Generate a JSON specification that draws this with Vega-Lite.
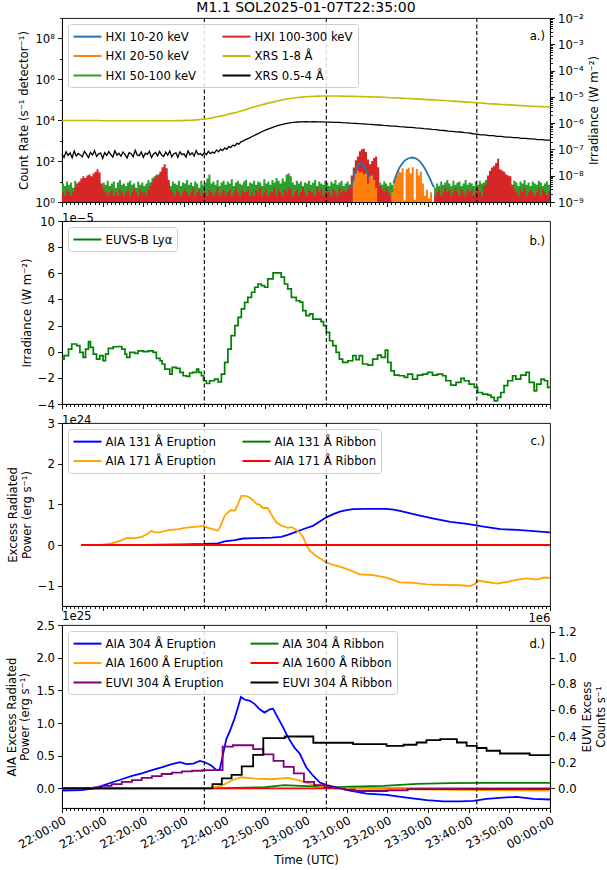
{
"$schema": "https://vega.github.io/schema/vega-lite/v6.json",
"background": "white",
"padding": {"left": 5, "top": 0, "right": 2, "bottom": 2},
"config": {
 "font": "DejaVu Sans",
 "view": {"stroke": "black", "strokeWidth": 0.9},
 "axis": {"labelFont": "DejaVu Sans", "labelFontSize": 11.7, "titleFont": "DejaVu Sans", "titleFontSize": 11.7, "titleFontWeight": "normal", "labelColor": "black", "titleColor": "black", "domainColor": "black", "tickColor": "black", "domainWidth": 0.9, "tickWidth": 0.9, "grid": false, "labelPadding": 3, "titlePadding": 5, "labelFlush": false, "labelOverlap": false, "labelBound": false},
 "title": {"font": "DejaVu Sans", "fontWeight": "normal", "color": "black", "fontSize": 11.7},
 "legend": {"labelFont": "DejaVu Sans", "labelFontSize": 11.7, "labelColor": "black", "symbolType": "M-2,0H2", "symbolStrokeWidth": 2, "symbolSize": 196, "symbolOffset": 7, "orient": "top-left", "offset": 6, "padding": 4.5, "rowPadding": 4.5, "columnPadding": 22, "labelOffset": 10, "strokeColor": "#cccccc", "fillColor": "rgba(255,255,255,0.85)", "cornerRadius": 3, "labelLimit": 300}
},
"datasets": {
 "dash": [{"t": 35}, {"t": 65}, {"t": 102}],
 "hxi": [
{"t":0,"g":8,"r":3},{"t":0.5,"g":6,"r":2},{"t":1,"g":10,"r":4},{"t":1.5,"g":7,"r":3},{"t":2,"g":9,"r":2},{"t":2.5,"g":5,"r":3},{"t":3,"g":11,"r":5},{"t":3.5,"g":8,"r":8},{"t":4,"g":6,"r":10},{"t":4.5,"g":9,"r":14},
{"t":5,"g":10,"r":18},{"t":5.5,"g":7,"r":15},{"t":6,"g":12,"r":20},{"t":6.5,"g":9,"r":22},{"t":7,"g":8,"r":18},{"t":7.5,"g":11,"r":25},{"t":8,"g":7,"r":30},{"t":8.5,"g":10,"r":40},{"t":9,"g":9,"r":28},{"t":9.5,"g":6,"r":8},
{"t":10,"g":9,"r":4},{"t":10.5,"g":7,"r":3},{"t":11,"g":11,"r":2},{"t":11.5,"g":6,"r":3},{"t":12,"g":8,"r":4},{"t":12.5,"g":10,"r":2},{"t":13,"g":5,"r":3},{"t":13.5,"g":9,"r":2},{"t":14,"g":12,"r":4},{"t":14.5,"g":7,"r":3},
{"t":15,"g":8,"r":2},{"t":15.5,"g":6,"r":3},{"t":16,"g":9,"r":4},{"t":16.5,"g":11,"r":2},{"t":17,"g":7,"r":3},{"t":17.5,"g":8,"r":5},{"t":18,"g":5,"r":3},{"t":18.5,"g":10,"r":2},{"t":19,"g":7,"r":4},{"t":19.5,"g":9,"r":3},
{"t":20,"g":6,"r":3},{"t":20.5,"g":8,"r":2},{"t":21,"g":12,"r":4},{"t":21.5,"g":9,"r":6},{"t":22,"g":15,"r":10},{"t":22.5,"g":18,"r":14},{"t":23,"g":22,"r":18},{"t":23.5,"g":20,"r":22},{"t":24,"g":30,"r":30},{"t":24.5,"g":45,"r":50},
{"t":25,"g":35,"r":70},{"t":25.5,"g":18,"r":45},{"t":26,"g":9,"r":12},{"t":26.5,"g":6,"r":4},{"t":27,"g":10,"r":3},{"t":27.5,"g":8,"r":2},{"t":28,"g":7,"r":4},{"t":28.5,"g":11,"r":3},{"t":29,"g":6,"r":2},{"t":29.5,"g":9,"r":3},
{"t":30,"g":8,"r":4},{"t":30.5,"g":12,"r":3},{"t":31,"g":7,"r":2},{"t":31.5,"g":9,"r":3},{"t":32,"g":6,"r":5},{"t":32.5,"g":10,"r":2},{"t":33,"g":8,"r":3},{"t":33.5,"g":5,"r":4},{"t":34,"g":11,"r":2},{"t":34.5,"g":7,"r":3},
{"t":35,"g":9,"r":3},{"t":35.5,"g":14,"r":2},{"t":36,"g":22,"r":4},{"t":36.5,"g":8,"r":3},{"t":37,"g":10,"r":2},{"t":37.5,"g":7,"r":3},{"t":38,"g":12,"r":5},{"t":38.5,"g":6,"r":2},{"t":39,"g":9,"r":3},{"t":39.5,"g":11,"r":4},
{"t":40,"g":7,"r":2},{"t":40.5,"g":10,"r":3},{"t":41,"g":8,"r":4},{"t":41.5,"g":13,"r":2},{"t":42,"g":6,"r":3},{"t":42.5,"g":9,"r":5},{"t":43,"g":11,"r":3},{"t":43.5,"g":8,"r":2},{"t":44,"g":7,"r":4},{"t":44.5,"g":10,"r":3},
{"t":45,"g":12,"r":3},{"t":45.5,"g":6,"r":4},{"t":46,"g":9,"r":2},{"t":46.5,"g":8,"r":3},{"t":47,"g":11,"r":2},{"t":47.5,"g":7,"r":4},{"t":48,"g":10,"r":3},{"t":48.5,"g":9,"r":5},{"t":49,"g":6,"r":2},{"t":49.5,"g":13,"r":3},
{"t":50,"g":8,"r":4},{"t":50.5,"g":10,"r":2},{"t":51,"g":7,"r":3},{"t":51.5,"g":12,"r":3},{"t":52,"g":9,"r":5},{"t":52.5,"g":15,"r":2},{"t":53,"g":11,"r":4},{"t":53.5,"g":8,"r":3},{"t":54,"g":14,"r":2},{"t":54.5,"g":10,"r":4},
{"t":55,"g":22,"r":3},{"t":55.5,"g":25,"r":5},{"t":56,"g":18,"r":4},{"t":56.5,"g":9,"r":2},{"t":57,"g":7,"r":3},{"t":57.5,"g":11,"r":4},{"t":58,"g":8,"r":2},{"t":58.5,"g":10,"r":3},{"t":59,"g":6,"r":5},{"t":59.5,"g":9,"r":3},
{"t":60,"g":8,"r":2},{"t":60.5,"g":11,"r":4},{"t":61,"g":7,"r":3},{"t":61.5,"g":9,"r":3},{"t":62,"g":12,"r":2},{"t":62.5,"g":6,"r":5},{"t":63,"g":10,"r":3},{"t":63.5,"g":8,"r":4},{"t":64,"g":7,"r":2},{"t":64.5,"g":11,"r":3},
{"t":65,"g":9,"r":4},{"t":65.5,"g":6,"r":3},{"t":66,"g":10,"r":2},{"t":66.5,"g":8,"r":4},{"t":67,"g":12,"r":3},{"t":67.5,"g":7,"r":2},{"t":68,"g":9,"r":5},{"t":68.5,"g":11,"r":3},{"t":69,"g":6,"r":4},{"t":69.5,"g":8,"r":3},
{"t":70,"g":10,"r":4},{"t":70.5,"g":7,"r":7},{"t":71,"g":5,"r":20},{"t":71.5,"g":3,"r":49},{"t":72,"g":2,"r":110},{"t":72.5,"g":2,"r":170},{"t":73,"g":2,"r":300},{"t":73.5,"g":2,"r":380},{"t":74,"g":2,"r":400},{"t":74.5,"g":2,"r":280},
{"t":75,"g":3,"r":120},{"t":75.5,"g":2,"r":70},{"t":76,"g":2,"r":100},{"t":76.5,"g":3,"r":140},{"t":77,"g":2,"r":170},{"t":77.5,"g":6,"r":50},{"t":78,"g":9,"r":6},{"t":78.5,"g":7,"r":4},{"t":79,"g":10,"r":3},{"t":79.5,"g":8,"r":5},
{"t":80,"g":6,"r":3},{"t":80.5,"g":9,"r":2},{"t":81,"g":7,"r":1},{"t":81.5,"g":5,"r":1},{"t":82,"g":6,"r":1},{"t":82.5,"g":4,"r":1},{"t":83,"g":1,"r":1},{"t":83.5,"g":1,"r":1},{"t":84,"g":1,"r":1},{"t":84.5,"g":1,"r":1},
{"t":85,"g":1,"r":1},{"t":85.5,"g":1,"r":1},{"t":86,"g":1,"r":1},{"t":86.5,"g":1,"r":1},{"t":87,"g":1,"r":1},{"t":87.5,"g":1,"r":1},{"t":88,"g":1,"r":1},{"t":88.5,"g":1,"r":1},{"t":89,"g":1,"r":1},{"t":89.5,"g":1,"r":1},
{"t":90,"g":1,"r":1},{"t":90.5,"g":1,"r":1},{"t":91,"g":1,"r":1},{"t":91.5,"g":5,"r":2},{"t":92,"g":8,"r":3},{"t":92.5,"g":6,"r":4},{"t":93,"g":10,"r":2},{"t":93.5,"g":7,"r":3},{"t":94,"g":9,"r":5},{"t":94.5,"g":12,"r":3},
{"t":95,"g":8,"r":4},{"t":95.5,"g":6,"r":2},{"t":96,"g":11,"r":3},{"t":96.5,"g":7,"r":5},{"t":97,"g":9,"r":3},{"t":97.5,"g":10,"r":2},{"t":98,"g":6,"r":4},{"t":98.5,"g":8,"r":3},{"t":99,"g":12,"r":2},{"t":99.5,"g":7,"r":4},
{"t":100,"g":9,"r":3},{"t":100.5,"g":8,"r":4},{"t":101,"g":6,"r":2},{"t":101.5,"g":10,"r":3},{"t":102,"g":7,"r":5},{"t":102.5,"g":11,"r":3},{"t":103,"g":8,"r":2},{"t":103.5,"g":9,"r":6},{"t":104,"g":12,"r":7},{"t":104.5,"g":10,"r":20},
{"t":105,"g":8,"r":34},{"t":105.5,"g":11,"r":49},{"t":106,"g":9,"r":60},{"t":106.5,"g":7,"r":80},{"t":107,"g":10,"r":130},{"t":107.5,"g":8,"r":40},{"t":108,"g":12,"r":35},{"t":108.5,"g":9,"r":30},{"t":109,"g":6,"r":22},{"t":109.5,"g":10,"r":20},
{"t":110,"g":8,"r":18},{"t":110.5,"g":7,"r":7},{"t":111,"g":11,"r":4},{"t":111.5,"g":9,"r":3},{"t":112,"g":6,"r":2},{"t":112.5,"g":10,"r":4},{"t":113,"g":8,"r":3},{"t":113.5,"g":12,"r":5},{"t":114,"g":7,"r":2},{"t":114.5,"g":9,"r":3},
{"t":115,"g":6,"r":4},{"t":115.5,"g":10,"r":3},{"t":116,"g":8,"r":2},{"t":116.5,"g":7,"r":3},{"t":117,"g":11,"r":5},{"t":117.5,"g":9,"r":2},{"t":118,"g":6,"r":4},{"t":118.5,"g":8,"r":3},{"t":119,"g":10,"r":2},{"t":119.5,"g":7,"r":3},
{"t":120,"g":8,"r":4}
 ],
 "hxo": [
{"t":71,"v":1},{"t":71.5,"v":12},{"t":72,"v":25},{"t":72.5,"v":35},{"t":73,"v":28},{"t":73.5,"v":30},{"t":74,"v":22},{"t":74.5,"v":25},{"t":75,"v":8},{"t":75.5,"v":18},{"t":76,"v":20},{"t":76.5,"v":12},{"t":77,"v":5},{"t":77.5,"v":1},{"t":78,"v":1},{"t":79,"v":1},{"t":80,"v":1},{"t":80.5,"v":1},
{"t":81,"v":3},{"t":81.5,"v":12},{"t":82,"v":20},{"t":82.5,"v":35},{"t":83,"v":28},{"t":83.5,"v":45},{"t":84,"v":1.2},{"t":84.5,"v":40},{"t":85,"v":48},{"t":85.5,"v":25},{"t":86,"v":50},{"t":86.5,"v":1.3},{"t":87,"v":42},{"t":87.5,"v":20},{"t":88,"v":30},{"t":88.5,"v":8},{"t":89,"v":2},{"t":89.5,"v":4},{"t":90,"v":1.5},{"t":90.5,"v":3},{"t":91,"v":1}
 ],
 "hxb": [
{"seg":1,"t":71,"v":5},{"seg":1,"t":71.5,"v":10},{"seg":1,"t":72,"v":30},{"seg":1,"t":72.5,"v":45},{"seg":1,"t":73,"v":74},{"seg":1,"t":73.5,"v":80},{"seg":1,"t":74,"v":70},{"seg":1,"t":74.5,"v":50},{"seg":1,"t":75,"v":30},{"seg":1,"t":75.5,"v":15},
{"seg":2,"t":81.5,"v":8},{"seg":2,"t":82,"v":16},{"seg":2,"t":82.5,"v":30},{"seg":2,"t":83,"v":49},{"seg":2,"t":83.5,"v":68},{"seg":2,"t":84,"v":92},{"seg":2,"t":84.5,"v":115},{"seg":2,"t":85,"v":130},{"seg":2,"t":85.5,"v":142},{"seg":2,"t":86,"v":150},{"seg":2,"t":86.5,"v":145},{"seg":2,"t":87,"v":135},{"seg":2,"t":87.5,"v":118},{"seg":2,"t":88,"v":95},{"seg":2,"t":88.5,"v":72},{"seg":2,"t":89,"v":51},{"seg":2,"t":89.5,"v":35},{"seg":2,"t":90,"v":22},{"seg":2,"t":90.5,"v":14},{"seg":2,"t":91,"v":8},{"seg":2,"t":91.5,"v":5}
 ],
 "xrs": [
{"t":0,"s":1.26e-6,"h":6.5e-8},{"t":0.5,"s":1.26e-6,"h":5.0e-8},{"t":1,"s":1.26e-6,"h":8.2e-8},{"t":1.5,"s":1.26e-6,"h":6.0e-8},{"t":2,"s":1.26e-6,"h":7.4e-8},{"t":2.5,"s":1.26e-6,"h":4.8e-8},{"t":3,"s":1.26e-6,"h":8.8e-8},{"t":3.5,"s":1.26e-6,"h":5.6e-8},{"t":4,"s":1.26e-6,"h":7.0e-8},{"t":4.5,"s":1.26e-6,"h":6.2e-8},
{"t":5,"s":1.26e-6,"h":5.2e-8},{"t":5.5,"s":1.26e-6,"h":8.5e-8},{"t":6,"s":1.26e-6,"h":6.6e-8},{"t":6.5,"s":1.26e-6,"h":4.9e-8},{"t":7,"s":1.26e-6,"h":7.8e-8},{"t":7.5,"s":1.26e-6,"h":6.1e-8},{"t":8,"s":1.26e-6,"h":9.0e-8},{"t":8.5,"s":1.26e-6,"h":5.4e-8},{"t":9,"s":1.26e-6,"h":6.8e-8},{"t":9.5,"s":1.26e-6,"h":7.3e-8},
{"t":10,"s":1.24e-6,"h":4.6e-8},{"t":10.5,"s":1.24e-6,"h":7.6e-8},{"t":11,"s":1.24e-6,"h":5.9e-8},{"t":11.5,"s":1.24e-6,"h":8.3e-8},{"t":12,"s":1.24e-6,"h":6.4e-8},{"t":12.5,"s":1.24e-6,"h":5.1e-8},{"t":13,"s":1.24e-6,"h":8.9e-8},{"t":13.5,"s":1.24e-6,"h":6.0e-8},{"t":14,"s":1.24e-6,"h":7.1e-8},{"t":14.5,"s":1.24e-6,"h":5.5e-8},
{"t":15,"s":1.24e-6,"h":8.0e-8},{"t":15.5,"s":1.24e-6,"h":6.3e-8},{"t":16,"s":1.24e-6,"h":4.7e-8},{"t":16.5,"s":1.24e-6,"h":7.5e-8},{"t":17,"s":1.24e-6,"h":6.9e-8},{"t":17.5,"s":1.24e-6,"h":5.3e-8},{"t":18,"s":1.24e-6,"h":9.2e-8},{"t":18.5,"s":1.24e-6,"h":6.2e-8},{"t":19,"s":1.24e-6,"h":5.8e-8},{"t":19.5,"s":1.24e-6,"h":7.9e-8},
{"t":20,"s":1.23e-6,"h":5.0e-8},{"t":20.5,"s":1.23e-6,"h":7.2e-8},{"t":21,"s":1.23e-6,"h":6.5e-8},{"t":21.5,"s":1.23e-6,"h":8.6e-8},{"t":22,"s":1.23e-6,"h":4.9e-8},{"t":22.5,"s":1.23e-6,"h":6.7e-8},{"t":23,"s":1.23e-6,"h":7.7e-8},{"t":23.5,"s":1.23e-6,"h":5.7e-8},{"t":24,"s":1.23e-6,"h":8.4e-8},{"t":24.5,"s":1.23e-6,"h":6.1e-8},
{"t":25,"s":1.23e-6,"h":5.4e-8},{"t":25.5,"s":1.23e-6,"h":7.9e-8},{"t":26,"s":1.23e-6,"h":6.0e-8},{"t":26.5,"s":1.23e-6,"h":8.8e-8},{"t":27,"s":1.23e-6,"h":5.2e-8},{"t":27.5,"s":1.23e-6,"h":6.9e-8},{"t":28,"s":1.25e-6,"h":7.4e-8},{"t":28.5,"s":1.25e-6,"h":5.0e-8},{"t":29,"s":1.25e-6,"h":8.1e-8},{"t":29.5,"s":1.25e-6,"h":6.3e-8},
{"t":30,"s":1.25e-6,"h":6.8e-8},{"t":30.5,"s":1.27e-6,"h":5.1e-8},{"t":31,"s":1.28e-6,"h":8.7e-8},{"t":31.5,"s":1.29e-6,"h":6.2e-8},{"t":32,"s":1.3e-6,"h":7.5e-8},{"t":32.5,"s":1.32e-6,"h":5.6e-8},{"t":33,"s":1.33e-6,"h":9.1e-8},{"t":33.5,"s":1.36e-6,"h":6.4e-8},{"t":34,"s":1.38e-6,"h":7.0e-8},{"t":34.5,"s":1.41e-6,"h":5.9e-8},
{"t":35,"s":1.45e-6,"h":7.6e-8},{"t":35.5,"s":1.47e-6,"h":6.3e-8},{"t":36,"s":1.5e-6,"h":8.4e-8},{"t":36.5,"s":1.55e-6,"h":6.9e-8},{"t":37,"s":1.6e-6,"h":7.9e-8},{"t":37.5,"s":1.66e-6,"h":7.2e-8},{"t":38,"s":1.72e-6,"h":9.5e-8},{"t":38.5,"s":1.78e-6,"h":8.1e-8},{"t":39,"s":1.85e-6,"h":10.2e-8},{"t":39.5,"s":1.92e-6,"h":9.0e-8},
{"t":40,"s":2.0e-6,"h":11.5e-8},{"t":40.5,"s":2.1e-6,"h":10.0e-8},{"t":41,"s":2.2e-6,"h":12.8e-8},{"t":41.5,"s":2.3e-6,"h":11.9e-8},{"t":42,"s":2.4e-6,"h":14.5e-8},{"t":42.5,"s":2.5e-6,"h":13.6e-8},{"t":43,"s":2.6e-6,"h":17.0e-8},{"t":43.5,"s":2.75e-6,"h":15.8e-8},{"t":44,"s":2.9e-6,"h":19.5e-8},{"t":44.5,"s":3.05e-6,"h":20.5e-8},{"t":45,"s":3.2e-6,"h":23.0e-8},
{"t":46,"s":3.6e-6,"h":2.7e-7},{"t":47,"s":4.0e-6,"h":3.25e-7},{"t":48,"s":4.45e-6,"h":3.85e-7},{"t":49,"s":4.9e-6,"h":4.6e-7},{"t":50,"s":5.4e-6,"h":5.45e-7},{"t":51,"s":5.9e-6,"h":6.2e-7},{"t":52,"s":6.45e-6,"h":7.05e-7},{"t":53,"s":7.0e-6,"h":8.0e-7},{"t":54,"s":7.55e-6,"h":8.85e-7},{"t":55,"s":8.1e-6,"h":9.55e-7},
{"t":56,"s":8.6e-6,"h":10.25e-7},{"t":57,"s":9.05e-6,"h":10.7e-7},{"t":58,"s":9.45e-6,"h":11.05e-7},{"t":59,"s":9.8e-6,"h":11.15e-7},{"t":60,"s":10.1e-6,"h":11.35e-7},{"t":61,"s":10.35e-6,"h":11.25e-7},{"t":62,"s":10.55e-6,"h":11.3e-7},{"t":63,"s":10.7e-6,"h":11.15e-7},{"t":64,"s":10.8e-6,"h":11.1e-7},{"t":65,"s":10.85e-6,"h":11.0e-7},
{"t":66,"s":10.85e-6,"h":10.95e-7},{"t":67,"s":10.8e-6,"h":10.75e-7},{"t":68,"s":10.75e-6,"h":10.65e-7},{"t":69,"s":10.7e-6,"h":10.4e-7},{"t":70,"s":10.6e-6,"h":10.25e-7},{"t":71,"s":10.5e-6,"h":10.0e-7},{"t":72,"s":10.4e-6,"h":9.85e-7},{"t":73,"s":10.3e-6,"h":9.55e-7},{"t":74,"s":10.2e-6,"h":9.4e-7},{"t":75,"s":10.1e-6,"h":9.1e-7},
{"t":76,"s":9.98e-6,"h":8.95e-7},{"t":77,"s":9.86e-6,"h":8.65e-7},{"t":78,"s":9.74e-6,"h":8.5e-7},{"t":79,"s":9.6e-6,"h":8.2e-7},{"t":80,"s":9.45e-6,"h":8.05e-7},{"t":81,"s":9.3e-6,"h":7.75e-7},{"t":82,"s":9.15e-6,"h":7.65e-7},{"t":83,"s":9.0e-6,"h":7.35e-7},{"t":84,"s":8.85e-6,"h":7.25e-7},{"t":85,"s":8.7e-6,"h":6.95e-7},
{"t":86,"s":8.5e-6,"h":6.85e-7},{"t":87,"s":8.35e-6,"h":6.55e-7},{"t":88,"s":8.2e-6,"h":6.45e-7},{"t":89,"s":8.0e-6,"h":6.15e-7},{"t":90,"s":7.85e-6,"h":6.05e-7},{"t":91,"s":7.7e-6,"h":5.75e-7},{"t":92,"s":7.55e-6,"h":5.65e-7},{"t":93,"s":7.4e-6,"h":5.35e-7},{"t":94,"s":7.25e-6,"h":5.25e-7},{"t":95,"s":7.1e-6,"h":4.95e-7},
{"t":96,"s":6.9e-6,"h":4.9e-7},{"t":97,"s":6.75e-6,"h":4.65e-7},{"t":98,"s":6.6e-6,"h":4.6e-7},{"t":99,"s":6.45e-6,"h":4.35e-7},{"t":100,"s":6.3e-6,"h":4.25e-7},{"t":101,"s":6.1e-6,"h":3.95e-7},{"t":102,"s":5.95e-6,"h":3.85e-7},{"t":103,"s":5.8e-6,"h":3.6e-7},{"t":104,"s":5.65e-6,"h":3.55e-7},{"t":105,"s":5.5e-6,"h":3.35e-7},
{"t":106,"s":5.4e-6,"h":3.35e-7},{"t":107,"s":5.28e-6,"h":3.15e-7},{"t":108,"s":5.15e-6,"h":3.15e-7},{"t":109,"s":5.05e-6,"h":2.95e-7},{"t":110,"s":4.95e-6,"h":2.95e-7},{"t":111,"s":4.85e-6,"h":2.8e-7},{"t":112,"s":4.75e-6,"h":2.8e-7},{"t":113,"s":4.65e-6,"h":2.65e-7},{"t":114,"s":4.55e-6,"h":2.65e-7},{"t":115,"s":4.48e-6,"h":2.5e-7},
{"t":116,"s":4.4e-6,"h":2.5e-7},{"t":117,"s":4.32e-6,"h":2.38e-7},{"t":118,"s":4.25e-6,"h":2.38e-7},{"t":119,"s":4.18e-6,"h":2.25e-7},{"t":120,"s":4.1e-6,"h":2.25e-7}
 ],
 "lya": [
{"t":0,"v":-0.56e-5},{"t":0.5,"v":-0.3e-5},{"t":1.6,"v":0.2e-5},{"t":2.4,"v":0.59e-5},{"t":3.6,"v":0.46e-5},{"t":4.4,"v":-0.05e-5},{"t":5.2,"v":-0.43e-5},{"t":5.8,"v":0.2e-5},{"t":6.5,"v":0.77e-5},{"t":7,"v":0.33e-5},{"t":7.7,"v":-0.18e-5},{"t":8.5,"v":-0.56e-5},{"t":9.3,"v":-0.3e-5},{"t":10.1,"v":-0.69e-5},{"t":10.7,"v":-0.18e-5},{"t":11.4,"v":0.25e-5},{"t":12.6,"v":0.38e-5},{"t":13.8,"v":0.4e-5},{"t":14.7,"v":0.2e-5},{"t":15.5,"v":-0.18e-5},{"t":15.9,"v":-0.43e-5},{"t":16.7,"v":-0.05e-5},{"t":17.9,"v":-0.13e-5},{"t":18.7,"v":0.07e-5},{"t":20,"v":0},{"t":21.2,"v":0.07e-5},{"t":22.4,"v":-0.05e-5},{"t":23.2,"v":-0.51e-5},{"t":24.1,"v":-0.69e-5},{"t":24.6,"v":-0.94e-5},{"t":25.3,"v":-1.33e-5},{"t":26.5,"v":-1.71e-5},{"t":27.1,"v":-1.2e-5},{"t":28.1,"v":-1.28e-5},{"t":29,"v":-1.58e-5},{"t":29.8,"v":-1.84e-5},{"t":30.6,"v":-1.89e-5},{"t":31.4,"v":-1.63e-5},{"t":32.2,"v":-1.58e-5},{"t":33.1,"v":-1.33e-5},{"t":33.6,"v":-1.58e-5},{"t":34.3,"v":-1.84e-5},{"t":34.8,"v":-2.22e-5},{"t":35.5,"v":-2.43e-5},{"t":36.3,"v":-2.22e-5},{"t":37.5,"v":-2.1e-5},{"t":38.4,"v":-2.3e-5},{"t":39.2,"v":-1.71e-5},{"t":40,"v":-0.82e-5},{"t":40.8,"v":0.2e-5},{"t":41.6,"v":1.23e-5},{"t":42.5,"v":2.0e-5},{"t":43.3,"v":2.63e-5},{"t":44.1,"v":3.27e-5},{"t":44.9,"v":3.78e-5},{"t":45.7,"v":4.16e-5},{"t":46.6,"v":4.55e-5},{"t":47.4,"v":4.93e-5},{"t":48.2,"v":5.18e-5},{"t":49,"v":5.06e-5},{"t":49.8,"v":4.93e-5},{"t":50.6,"v":5.57e-5},{"t":51.9,"v":6.03e-5},{"t":53.1,"v":6.03e-5},{"t":53.9,"v":5.7e-5},{"t":54.7,"v":5.18e-5},{"t":55.5,"v":4.8e-5},{"t":56.4,"v":4.16e-5},{"t":57.6,"v":3.9e-5},{"t":58.5,"v":3.8e-5},{"t":59.2,"v":3.14e-5},{"t":60,"v":2.76e-5},{"t":60.9,"v":2.89e-5},{"t":61.7,"v":2.5e-5},{"t":62.9,"v":2.5e-5},{"t":63.7,"v":2.3e-5},{"t":64.3,"v":1.99e-5},{"t":65,"v":1.48e-5},{"t":65.8,"v":0.84e-5},{"t":66.6,"v":0.46e-5},{"t":67.4,"v":-0.05e-5},{"t":68.2,"v":-0.56e-5},{"t":69,"v":-0.82e-5},{"t":70.3,"v":-0.69e-5},{"t":71.5,"v":-0.3e-5},{"t":72.3,"v":-0.61e-5},{"t":73.1,"v":-0.3e-5},{"t":73.9,"v":-0.94e-5},{"t":75.2,"v":-1.02e-5},{"t":76.4,"v":-0.56e-5},{"t":77.6,"v":-0.26e-5},{"t":78.5,"v":-0.43e-5},{"t":79.5,"v":0.12e-5},{"t":80.1,"v":-0.82e-5},{"t":80.9,"v":-1.46e-5},{"t":81.7,"v":-1.79e-5},{"t":82.9,"v":-1.84e-5},{"t":84.2,"v":-1.97e-5},{"t":85,"v":-1.71e-5},{"t":86.2,"v":-2.1e-5},{"t":87.4,"v":-1.79e-5},{"t":88.7,"v":-1.71e-5},{"t":89.9,"v":-1.58e-5},{"t":91.1,"v":-1.79e-5},{"t":92.3,"v":-1.71e-5},{"t":93.6,"v":-1.84e-5},{"t":94.4,"v":-2.22e-5},{"t":95.6,"v":-2.55e-5},{"t":96.9,"v":-2.35e-5},{"t":98.1,"v":-2.04e-5},{"t":98.9,"v":-2.22e-5},{"t":100.1,"v":-2.48e-5},{"t":101.4,"v":-2.73e-5},{"t":102.2,"v":-3.12e-5},{"t":103.4,"v":-3.25e-5},{"t":104.7,"v":-3.32e-5},{"t":105.5,"v":-3.5e-5},{"t":106.3,"v":-3.76e-5},{"t":107.1,"v":-3.5e-5},{"t":107.9,"v":-3.12e-5},{"t":108.7,"v":-2.6e-5},{"t":109.6,"v":-2.22e-5},{"t":110.8,"v":-1.84e-5},{"t":111.6,"v":-2.1e-5},{"t":112.8,"v":-1.79e-5},{"t":114.1,"v":-1.58e-5},{"t":114.9,"v":-2.35e-5},{"t":116.1,"v":-2.99e-5},{"t":116.7,"v":-2.48e-5},{"t":117.8,"v":-2.1e-5},{"t":118.6,"v":-2.22e-5},{"t":119.4,"v":-2.73e-5},{"t":120,"v":-2.66e-5}
 ],
 "aiac": [
{"s":"AIA 131 Å Ribbon","t":4.8,"v":0},{"s":"AIA 131 Å Ribbon","t":120,"v":0},
{"s":"AIA 171 Å Ribbon","t":4.8,"v":0},{"s":"AIA 171 Å Ribbon","t":120,"v":0},
{"s":"AIA 131 Å Eruption","t":4.8,"v":0},{"s":"AIA 131 Å Eruption","t":20,"v":0.005e24},{"s":"AIA 131 Å Eruption","t":30,"v":0.015e24},{"s":"AIA 131 Å Eruption","t":35,"v":0.025e24},{"s":"AIA 131 Å Eruption","t":38.4,"v":0.04e24},{"s":"AIA 131 Å Eruption","t":40,"v":0.09e24},{"s":"AIA 131 Å Eruption","t":42.5,"v":0.12e24},{"s":"AIA 131 Å Eruption","t":44.5,"v":0.16e24},{"s":"AIA 131 Å Eruption","t":47.4,"v":0.17e24},{"s":"AIA 131 Å Eruption","t":51.5,"v":0.18e24},{"s":"AIA 131 Å Eruption","t":53.9,"v":0.2e24},{"s":"AIA 131 Å Eruption","t":55.5,"v":0.25e24},{"s":"AIA 131 Å Eruption","t":57.2,"v":0.31e24},{"s":"AIA 131 Å Eruption","t":59.6,"v":0.4e24},{"s":"AIA 131 Å Eruption","t":61.7,"v":0.47e24},{"s":"AIA 131 Å Eruption","t":63.3,"v":0.57e24},{"s":"AIA 131 Å Eruption","t":65,"v":0.68e24},{"s":"AIA 131 Å Eruption","t":66.7,"v":0.76e24},{"s":"AIA 131 Å Eruption","t":68.3,"v":0.82e24},{"s":"AIA 131 Å Eruption","t":70,"v":0.86e24},{"s":"AIA 131 Å Eruption","t":71.6,"v":0.88e24},{"s":"AIA 131 Å Eruption","t":74.9,"v":0.89e24},{"s":"AIA 131 Å Eruption","t":79.8,"v":0.89e24},{"s":"AIA 131 Å Eruption","t":81.5,"v":0.87e24},{"s":"AIA 131 Å Eruption","t":83.1,"v":0.84e24},{"s":"AIA 131 Å Eruption","t":87.2,"v":0.74e24},{"s":"AIA 131 Å Eruption","t":91.4,"v":0.65e24},{"s":"AIA 131 Å Eruption","t":95.5,"v":0.57e24},{"s":"AIA 131 Å Eruption","t":99.6,"v":0.52e24},{"s":"AIA 131 Å Eruption","t":103.7,"v":0.45e24},{"s":"AIA 131 Å Eruption","t":107.8,"v":0.39e24},{"s":"AIA 131 Å Eruption","t":111.9,"v":0.37e24},{"s":"AIA 131 Å Eruption","t":116,"v":0.34e24},{"s":"AIA 131 Å Eruption","t":120,"v":0.31e24},
{"s":"AIA 171 Å Eruption","t":4.8,"v":0},{"s":"AIA 171 Å Eruption","t":9.7,"v":0},{"s":"AIA 171 Å Eruption","t":12.2,"v":0.04e24},{"s":"AIA 171 Å Eruption","t":14.2,"v":0.1e24},{"s":"AIA 171 Å Eruption","t":15.9,"v":0.17e24},{"s":"AIA 171 Å Eruption","t":17.9,"v":0.17e24},{"s":"AIA 171 Å Eruption","t":19.6,"v":0.2e24},{"s":"AIA 171 Å Eruption","t":21,"v":0.27e24},{"s":"AIA 171 Å Eruption","t":22,"v":0.35e24},{"s":"AIA 171 Å Eruption","t":22.8,"v":0.31e24},{"s":"AIA 171 Å Eruption","t":24.1,"v":0.31e24},{"s":"AIA 171 Å Eruption","t":25.3,"v":0.35e24},{"s":"AIA 171 Å Eruption","t":26.9,"v":0.37e24},{"s":"AIA 171 Å Eruption","t":28.6,"v":0.39e24},{"s":"AIA 171 Å Eruption","t":30.2,"v":0.42e24},{"s":"AIA 171 Å Eruption","t":31.8,"v":0.44e24},{"s":"AIA 171 Å Eruption","t":33.5,"v":0.45e24},{"s":"AIA 171 Å Eruption","t":34.7,"v":0.47e24},{"s":"AIA 171 Å Eruption","t":35.9,"v":0.42e24},{"s":"AIA 171 Å Eruption","t":37.1,"v":0.39e24},{"s":"AIA 171 Å Eruption","t":38.4,"v":0.35e24},{"s":"AIA 171 Å Eruption","t":39.2,"v":0.52e24},{"s":"AIA 171 Å Eruption","t":40,"v":0.72e24},{"s":"AIA 171 Å Eruption","t":40.8,"v":0.8e24},{"s":"AIA 171 Å Eruption","t":41.6,"v":0.86e24},{"s":"AIA 171 Å Eruption","t":42.5,"v":0.84e24},{"s":"AIA 171 Å Eruption","t":43.3,"v":1.01e24},{"s":"AIA 171 Å Eruption","t":44.1,"v":1.21e24},{"s":"AIA 171 Å Eruption","t":44.9,"v":1.21e24},{"s":"AIA 171 Å Eruption","t":45.7,"v":1.19e24},{"s":"AIA 171 Å Eruption","t":47,"v":1.1e24},{"s":"AIA 171 Å Eruption","t":47.8,"v":1.01e24},{"s":"AIA 171 Å Eruption","t":48.6,"v":0.99e24},{"s":"AIA 171 Å Eruption","t":49.4,"v":0.91e24},{"s":"AIA 171 Å Eruption","t":50.6,"v":0.91e24},{"s":"AIA 171 Å Eruption","t":51.9,"v":0.68e24},{"s":"AIA 171 Å Eruption","t":52.7,"v":0.56e24},{"s":"AIA 171 Å Eruption","t":53.9,"v":0.48e24},{"s":"AIA 171 Å Eruption","t":55.5,"v":0.42e24},{"s":"AIA 171 Å Eruption","t":56.5,"v":0.44e24},{"s":"AIA 171 Å Eruption","t":57.6,"v":0.37e24},{"s":"AIA 171 Å Eruption","t":58.5,"v":0.3e24},{"s":"AIA 171 Å Eruption","t":59.3,"v":0.19e24},{"s":"AIA 171 Å Eruption","t":60.1,"v":0.0},{"s":"AIA 171 Å Eruption","t":60.9,"v":-0.14e24},{"s":"AIA 171 Å Eruption","t":62.5,"v":-0.27e24},{"s":"AIA 171 Å Eruption","t":63.8,"v":-0.35e24},{"s":"AIA 171 Å Eruption","t":65,"v":-0.43e24},{"s":"AIA 171 Å Eruption","t":66.7,"v":-0.49e24},{"s":"AIA 171 Å Eruption","t":68.3,"v":-0.53e24},{"s":"AIA 171 Å Eruption","t":70.8,"v":-0.62e24},{"s":"AIA 171 Å Eruption","t":73.2,"v":-0.72e24},{"s":"AIA 171 Å Eruption","t":76.5,"v":-0.74e24},{"s":"AIA 171 Å Eruption","t":79.8,"v":-0.8e24},{"s":"AIA 171 Å Eruption","t":83.1,"v":-0.92e24},{"s":"AIA 171 Å Eruption","t":86.4,"v":-0.93e24},{"s":"AIA 171 Å Eruption","t":89.7,"v":-0.97e24},{"s":"AIA 171 Å Eruption","t":93.8,"v":-0.98e24},{"s":"AIA 171 Å Eruption","t":97.9,"v":-0.99e24},{"s":"AIA 171 Å Eruption","t":100.4,"v":-1.01e24},{"s":"AIA 171 Å Eruption","t":101.6,"v":-0.95e24},{"s":"AIA 171 Å Eruption","t":102.4,"v":-0.88e24},{"s":"AIA 171 Å Eruption","t":104.5,"v":-0.91e24},{"s":"AIA 171 Å Eruption","t":106.9,"v":-0.95e24},{"s":"AIA 171 Å Eruption","t":109.4,"v":-0.91e24},{"s":"AIA 171 Å Eruption","t":111.9,"v":-0.85e24},{"s":"AIA 171 Å Eruption","t":114.4,"v":-0.82e24},{"s":"AIA 171 Å Eruption","t":116.8,"v":-0.85e24},{"s":"AIA 171 Å Eruption","t":118.5,"v":-0.8e24},{"s":"AIA 171 Å Eruption","t":120,"v":-0.81e24}
 ],
 "aiad": [
{"s":"AIA 304 Å Ribbon","t":0,"v":0},{"s":"AIA 304 Å Ribbon","t":40,"v":0.005e25},{"s":"AIA 304 Å Ribbon","t":50,"v":0.02e25},{"s":"AIA 304 Å Ribbon","t":54.7,"v":0.05e25},{"s":"AIA 304 Å Ribbon","t":58.5,"v":0.04e25},{"s":"AIA 304 Å Ribbon","t":62.6,"v":0.03e25},{"s":"AIA 304 Å Ribbon","t":66.7,"v":0.015e25},{"s":"AIA 304 Å Ribbon","t":70.8,"v":0.025e25},{"s":"AIA 304 Å Ribbon","t":79,"v":0.04e25},{"s":"AIA 304 Å Ribbon","t":87.2,"v":0.07e25},{"s":"AIA 304 Å Ribbon","t":95.4,"v":0.08e25},{"s":"AIA 304 Å Ribbon","t":103.6,"v":0.085e25},{"s":"AIA 304 Å Ribbon","t":120,"v":0.085e25},
{"s":"AIA 1600 Å Ribbon","t":0,"v":0},{"s":"AIA 1600 Å Ribbon","t":120,"v":0},
{"s":"AIA 1600 Å Eruption","t":0,"v":0},{"s":"AIA 1600 Å Eruption","t":36,"v":0.005e25},{"s":"AIA 1600 Å Eruption","t":36.7,"v":0.015e25},{"s":"AIA 1600 Å Eruption","t":39.2,"v":0.04e25},{"s":"AIA 1600 Å Eruption","t":40.8,"v":0.09e25},{"s":"AIA 1600 Å Eruption","t":42.5,"v":0.14e25},{"s":"AIA 1600 Å Eruption","t":44.1,"v":0.17e25},{"s":"AIA 1600 Å Eruption","t":47.4,"v":0.15e25},{"s":"AIA 1600 Å Eruption","t":51.5,"v":0.14e25},{"s":"AIA 1600 Å Eruption","t":55.6,"v":0.16e25},{"s":"AIA 1600 Å Eruption","t":58.5,"v":0.12e25},{"s":"AIA 1600 Å Eruption","t":61,"v":0.07e25},{"s":"AIA 1600 Å Eruption","t":63.4,"v":0.04e25},{"s":"AIA 1600 Å Eruption","t":66.7,"v":0.015e25},{"s":"AIA 1600 Å Eruption","t":70.8,"v":0},{"s":"AIA 1600 Å Eruption","t":79,"v":-0.01e25},{"s":"AIA 1600 Å Eruption","t":91.3,"v":-0.02e25},{"s":"AIA 1600 Å Eruption","t":103.6,"v":-0.025e25},{"s":"AIA 1600 Å Eruption","t":115.9,"v":-0.035e25},{"s":"AIA 1600 Å Eruption","t":120,"v":-0.035e25},
{"s":"AIA 304 Å Eruption","t":0,"v":-0.035e25},{"s":"AIA 304 Å Eruption","t":2.5,"v":-0.03e25},{"s":"AIA 304 Å Eruption","t":4.9,"v":-0.025e25},{"s":"AIA 304 Å Eruption","t":6.5,"v":-0.01e25},{"s":"AIA 304 Å Eruption","t":7.8,"v":0},{"s":"AIA 304 Å Eruption","t":9.8,"v":0.04e25},{"s":"AIA 304 Å Eruption","t":12.2,"v":0.09e25},{"s":"AIA 304 Å Eruption","t":14.7,"v":0.14e25},{"s":"AIA 304 Å Eruption","t":17.2,"v":0.19e25},{"s":"AIA 304 Å Eruption","t":19.6,"v":0.23e25},{"s":"AIA 304 Å Eruption","t":22.1,"v":0.28e25},{"s":"AIA 304 Å Eruption","t":24.5,"v":0.32e25},{"s":"AIA 304 Å Eruption","t":27,"v":0.37e25},{"s":"AIA 304 Å Eruption","t":29,"v":0.4e25},{"s":"AIA 304 Å Eruption","t":30.6,"v":0.37e25},{"s":"AIA 304 Å Eruption","t":32.3,"v":0.38e25},{"s":"AIA 304 Å Eruption","t":33.9,"v":0.42e25},{"s":"AIA 304 Å Eruption","t":35.1,"v":0.4e25},{"s":"AIA 304 Å Eruption","t":36.7,"v":0.35e25},{"s":"AIA 304 Å Eruption","t":38,"v":0.28e25},{"s":"AIA 304 Å Eruption","t":38.8,"v":0.29e25},{"s":"AIA 304 Å Eruption","t":39.6,"v":0.52e25},{"s":"AIA 304 Å Eruption","t":40.4,"v":0.75e25},{"s":"AIA 304 Å Eruption","t":41.3,"v":0.88e25},{"s":"AIA 304 Å Eruption","t":42.5,"v":1.08e25},{"s":"AIA 304 Å Eruption","t":43.5,"v":1.29e25},{"s":"AIA 304 Å Eruption","t":44,"v":1.4e25},{"s":"AIA 304 Å Eruption","t":44.9,"v":1.36e25},{"s":"AIA 304 Å Eruption","t":46.2,"v":1.34e25},{"s":"AIA 304 Å Eruption","t":47.4,"v":1.29e25},{"s":"AIA 304 Å Eruption","t":48.6,"v":1.21e25},{"s":"AIA 304 Å Eruption","t":49.8,"v":1.16e25},{"s":"AIA 304 Å Eruption","t":51.1,"v":1.21e25},{"s":"AIA 304 Å Eruption","t":51.9,"v":1.22e25},{"s":"AIA 304 Å Eruption","t":53.1,"v":1.08e25},{"s":"AIA 304 Å Eruption","t":54.4,"v":0.93e25},{"s":"AIA 304 Å Eruption","t":55.6,"v":0.78e25},{"s":"AIA 304 Å Eruption","t":57.2,"v":0.62e25},{"s":"AIA 304 Å Eruption","t":58.5,"v":0.53e25},{"s":"AIA 304 Å Eruption","t":59.3,"v":0.42e25},{"s":"AIA 304 Å Eruption","t":60.1,"v":0.32e25},{"s":"AIA 304 Å Eruption","t":61.8,"v":0.19e25},{"s":"AIA 304 Å Eruption","t":63.4,"v":0.09e25},{"s":"AIA 304 Å Eruption","t":65.1,"v":0.05e25},{"s":"AIA 304 Å Eruption","t":67.5,"v":0.015e25},{"s":"AIA 304 Å Eruption","t":70.8,"v":-0.035e25},{"s":"AIA 304 Å Eruption","t":74.9,"v":-0.08e25},{"s":"AIA 304 Å Eruption","t":79.8,"v":-0.1e25},{"s":"AIA 304 Å Eruption","t":84.7,"v":-0.14e25},{"s":"AIA 304 Å Eruption","t":89.7,"v":-0.18e25},{"s":"AIA 304 Å Eruption","t":93.8,"v":-0.2e25},{"s":"AIA 304 Å Eruption","t":97.9,"v":-0.2e25},{"s":"AIA 304 Å Eruption","t":101.2,"v":-0.19e25},{"s":"AIA 304 Å Eruption","t":104.4,"v":-0.16e25},{"s":"AIA 304 Å Eruption","t":108.5,"v":-0.14e25},{"s":"AIA 304 Å Eruption","t":111.8,"v":-0.13e25},{"s":"AIA 304 Å Eruption","t":115.9,"v":-0.16e25},{"s":"AIA 304 Å Eruption","t":120,"v":-0.17e25}
 ],
 "euvi": [
{"s":"EUVI 304 Å Eruption","t":0,"v":0},{"s":"EUVI 304 Å Eruption","t":8,"v":0.008e6},{"s":"EUVI 304 Å Eruption","t":9.8,"v":0.02e6},{"s":"EUVI 304 Å Eruption","t":12.2,"v":0.033e6},{"s":"EUVI 304 Å Eruption","t":14.7,"v":0.05e6},{"s":"EUVI 304 Å Eruption","t":17.2,"v":0.064e6},{"s":"EUVI 304 Å Eruption","t":19.6,"v":0.08e6},{"s":"EUVI 304 Å Eruption","t":22.1,"v":0.094e6},{"s":"EUVI 304 Å Eruption","t":24.5,"v":0.11e6},{"s":"EUVI 304 Å Eruption","t":27,"v":0.12e6},{"s":"EUVI 304 Å Eruption","t":29.5,"v":0.13e6},{"s":"EUVI 304 Å Eruption","t":32,"v":0.135e6},{"s":"EUVI 304 Å Eruption","t":34.5,"v":0.14e6},{"s":"EUVI 304 Å Eruption","t":39.5,"v":0.32e6},{"s":"EUVI 304 Å Eruption","t":42,"v":0.33e6},{"s":"EUVI 304 Å Eruption","t":47,"v":0.3e6},{"s":"EUVI 304 Å Eruption","t":49.5,"v":0.26e6},{"s":"EUVI 304 Å Eruption","t":52,"v":0.21e6},{"s":"EUVI 304 Å Eruption","t":54.5,"v":0.165e6},{"s":"EUVI 304 Å Eruption","t":57,"v":0.115e6},{"s":"EUVI 304 Å Eruption","t":59.5,"v":0.05e6},{"s":"EUVI 304 Å Eruption","t":62,"v":0.025e6},{"s":"EUVI 304 Å Eruption","t":64.5,"v":0.01e6},{"s":"EUVI 304 Å Eruption","t":67,"v":0},{"s":"EUVI 304 Å Eruption","t":69.5,"v":-0.01e6},{"s":"EUVI 304 Å Eruption","t":72,"v":-0.02e6},{"s":"EUVI 304 Å Eruption","t":80,"v":-0.015e6},{"s":"EUVI 304 Å Eruption","t":85,"v":-0.005e6},{"s":"EUVI 304 Å Eruption","t":120,"v":-0.005e6},
{"s":"EUVI 304 Å Ribbon","t":0,"v":0},{"s":"EUVI 304 Å Ribbon","t":37,"v":0.033e6},{"s":"EUVI 304 Å Ribbon","t":39.3,"v":0.076e6},{"s":"EUVI 304 Å Ribbon","t":41.7,"v":0.104e6},{"s":"EUVI 304 Å Ribbon","t":44.2,"v":0.168e6},{"s":"EUVI 304 Å Ribbon","t":47,"v":0.257e6},{"s":"EUVI 304 Å Ribbon","t":49.5,"v":0.385e6},{"s":"EUVI 304 Å Ribbon","t":54.8,"v":0.397e6},{"s":"EUVI 304 Å Ribbon","t":61.8,"v":0.349e6},{"s":"EUVI 304 Å Ribbon","t":71.6,"v":0.339e6},{"s":"EUVI 304 Å Ribbon","t":79.8,"v":0.326e6},{"s":"EUVI 304 Å Ribbon","t":84,"v":0.334e6},{"s":"EUVI 304 Å Ribbon","t":87.2,"v":0.351e6},{"s":"EUVI 304 Å Ribbon","t":89.6,"v":0.37e6},{"s":"EUVI 304 Å Ribbon","t":93,"v":0.377e6},{"s":"EUVI 304 Å Ribbon","t":97.1,"v":0.351e6},{"s":"EUVI 304 Å Ribbon","t":99.5,"v":0.326e6},{"s":"EUVI 304 Å Ribbon","t":102,"v":0.309e6},{"s":"EUVI 304 Å Ribbon","t":104.4,"v":0.288e6},{"s":"EUVI 304 Å Ribbon","t":107.7,"v":0.267e6},{"s":"EUVI 304 Å Ribbon","t":115,"v":0.255e6},{"s":"EUVI 304 Å Ribbon","t":120,"v":0.255e6}
 ]
},
"spacing": 19,
"bounds": "flush",
"resolve": {"scale": {"color": "independent", "y": "independent", "x": "independent"}, "legend": {"color": "independent"}},
"vconcat": [
 {
  "width": 488, "height": 184,
  "title": {"text": "M1.1 SOL2025-01-07T22:35:00", "fontSize": 14, "anchor": "middle", "frame": "group", "offset": -2},
  "resolve": {"scale": {"y": "independent"}},
  "layer": [
   {"layer": [
    {"data": {"name": "hxi"}, "mark": {"type": "area", "interpolate": "step-after", "opacity": 1, "color": "#2ca02c"},
     "encoding": {
      "x": {"field": "t", "type": "quantitative", "scale": {"domain": [0, 120], "nice": false},
            "axis": {"values": [0,1,2,3,4,5,6,7,8,9,10,11,12,13,14,15,16,17,18,19,20,21,22,23,24,25,26,27,28,29,30,31,32,33,34,35,36,37,38,39,40,41,42,43,44,45,46,47,48,49,50,51,52,53,54,55,56,57,58,59,60,61,62,63,64,65,66,67,68,69,70,71,72,73,74,75,76,77,78,79,80,81,82,83,84,85,86,87,88,89,90,91,92,93,94,95,96,97,98,99,100,101,102,103,104,105,106,107,108,109,110,111,112,113,114,115,116,117,118,119,120], "tickCount": 500, "labels": false, "title": null, "tickSize": {"condition": {"test": "datum.value % 10 === 0", "value": 4.5}, "value": 2.5}}},
      "y": {"field": "g", "type": "quantitative", "scale": {"type": "log", "domain": [1, 1e9], "nice": false},
            "axis": {"values": [1,10,100,1000,1e4,1e5,1e6,1e7,1e8,1e9], "tickCount": 500, "title": "Count Rate (s⁻¹ detector⁻¹)", "labelExpr": "round(log(datum.value)/LN10) % 2 === 0 && datum.value < 5e8 ? ['10⁰','10¹','10²','10³','10⁴','10⁵','10⁶','10⁷','10⁸'][round(log(datum.value)/LN10)] : ''", "tickSize": {"condition": {"test": "round(log(datum.value)/LN10) % 2 === 0", "value": 4.5}, "value": 2.5}}},
      "y2": {"datum": 1}
     }},
    {"data": {"name": "hxi"}, "mark": {"type": "area", "interpolate": "step-after", "opacity": 1, "color": "#d62728"},
     "encoding": {"x": {"field": "t", "type": "quantitative"}, "y": {"field": "r", "type": "quantitative"}, "y2": {"datum": 1}}},
    {"data": {"name": "hxo"}, "mark": {"type": "area", "interpolate": "step-after", "opacity": 1, "color": "#ff7f0e"},
     "encoding": {"x": {"field": "t", "type": "quantitative"}, "y": {"field": "v", "type": "quantitative"}, "y2": {"datum": 1}}},
    {"data": {"name": "hxb"}, "mark": {"type": "line", "strokeWidth": 1.8},
     "encoding": {"x": {"field": "t", "type": "quantitative"}, "y": {"field": "v", "type": "quantitative"}, "detail": {"field": "seg", "type": "nominal"},
      "color": {"datum": "HXI 10-20 keV",
       "scale": {"domain": ["HXI 10-20 keV", "HXI 20-50 keV", "HXI 50-100 keV", "HXI 100-300 keV", "XRS 1-8 Å", "XRS 0.5-4 Å"], "range": ["#1f77b4", "#ff7f0e", "#2ca02c", "#d62728", "#bfbf00", "#000000"]},
       "legend": {"title": null, "columns": 2, "orient": "top-left"}}}},
    {"data": {"name": "dash"}, "mark": {"type": "rule", "strokeDash": [4, 2.5], "color": "black", "strokeWidth": 1.1},
     "encoding": {"x": {"field": "t", "type": "quantitative"}}},
    {"data": {"values": [{"lab": "a.)"}]}, "mark": {"type": "text", "align": "right", "baseline": "middle", "fontSize": 11.7, "color": "black"},
     "encoding": {"x": {"datum": 118.8, "type": "quantitative"}, "y": {"datum": 1.3e8, "type": "quantitative"}, "text": {"field": "lab"}}}
   ]},
   {"layer": [
    {"data": {"name": "xrs"}, "mark": {"type": "line", "strokeWidth": 1.6},
     "encoding": {"x": {"field": "t", "type": "quantitative"},
      "y": {"field": "s", "type": "quantitative", "scale": {"type": "log", "domain": [1e-9, 1e-2], "nice": false},
            "axis": {"orient": "right", "title": "Irradiance (W m⁻²)", "titleAngle": 270, "titleBaseline": "top", "tickCount": 500,
                     "values": [1e-9,2e-9,3e-9,4e-9,5e-9,6e-9,7e-9,8e-9,9e-9,1e-8,2e-8,3e-8,4e-8,5e-8,6e-8,7e-8,8e-8,9e-8,1e-7,2e-7,3e-7,4e-7,5e-7,6e-7,7e-7,8e-7,9e-7,1e-6,2e-6,3e-6,4e-6,5e-6,6e-6,7e-6,8e-6,9e-6,1e-5,2e-5,3e-5,4e-5,5e-5,6e-5,7e-5,8e-5,9e-5,1e-4,2e-4,3e-4,4e-4,5e-4,6e-4,7e-4,8e-4,9e-4,1e-3,2e-3,3e-3,4e-3,5e-3,6e-3,7e-3,8e-3,9e-3,1e-2],
                     "labelExpr": "abs(log(datum.value)/LN10 - round(log(datum.value)/LN10)) < 0.01 ? ['10⁻⁹','10⁻⁸','10⁻⁷','10⁻⁶','10⁻⁵','10⁻⁴','10⁻³','10⁻²'][round(log(datum.value)/LN10) + 9] : ''",
                     "tickSize": {"condition": {"test": "abs(log(datum.value)/LN10 - round(log(datum.value)/LN10)) < 0.01", "value": 4.5}, "value": 2.5}}},
      "color": {"datum": "XRS 1-8 Å"}}},
    {"data": {"name": "xrs"}, "mark": {"type": "line", "strokeWidth": 1.3},
     "encoding": {"x": {"field": "t", "type": "quantitative"}, "y": {"field": "h", "type": "quantitative"}, "color": {"datum": "XRS 0.5-4 Å"}}}
   ]}
  ]
 },
 {
  "width": 488, "height": 183,
  "title": {"text": "1e−5", "anchor": "start", "frame": "group", "offset": -9},
  "layer": [
   {"data": {"name": "lya"}, "mark": {"type": "line", "interpolate": "step-after", "strokeWidth": 1.7},
    "encoding": {
     "x": {"field": "t", "type": "quantitative", "scale": {"domain": [0, 120], "nice": false},
           "axis": {"values": [0,1,2,3,4,5,6,7,8,9,10,11,12,13,14,15,16,17,18,19,20,21,22,23,24,25,26,27,28,29,30,31,32,33,34,35,36,37,38,39,40,41,42,43,44,45,46,47,48,49,50,51,52,53,54,55,56,57,58,59,60,61,62,63,64,65,66,67,68,69,70,71,72,73,74,75,76,77,78,79,80,81,82,83,84,85,86,87,88,89,90,91,92,93,94,95,96,97,98,99,100,101,102,103,104,105,106,107,108,109,110,111,112,113,114,115,116,117,118,119,120], "tickCount": 500, "labels": false, "title": null, "tickSize": {"condition": {"test": "datum.value % 10 === 0", "value": 4.5}, "value": 2.5}}},
     "y": {"field": "v", "type": "quantitative", "scale": {"domain": [-4e-5, 1e-4], "nice": false, "zero": false},
           "axis": {"values": [-4e-5, -2e-5, 0, 2e-5, 4e-5, 6e-5, 8e-5, 1e-4], "tickCount": 500, "labelExpr": "format(datum.value*1e5, 'd')", "title": "Irradiance (W m⁻²)", "tickSize": 4.5}},
     "color": {"datum": "EUVS-B Lyα", "scale": {"domain": ["EUVS-B Lyα"], "range": ["#008000"]}, "legend": {"title": null, "orient": "top-left"}}
    }},
   {"data": {"name": "dash"}, "mark": {"type": "rule", "strokeDash": [4, 2.5], "color": "black", "strokeWidth": 1.1},
    "encoding": {"x": {"field": "t", "type": "quantitative"}}},
   {"data": {"values": [{"lab": "b.)"}]}, "mark": {"type": "text", "align": "right", "baseline": "middle", "fontSize": 11.7, "color": "black"},
    "encoding": {"x": {"datum": 118.8, "type": "quantitative"}, "y": {"datum": 8.5e-5, "type": "quantitative"}, "text": {"field": "lab"}}}
  ]
 },
 {
  "width": 488, "height": 183,
  "title": {"text": "1e24", "anchor": "start", "frame": "group", "offset": -9},
  "layer": [
   {"data": {"name": "aiac"}, "transform": [{"filter": {"field": "s", "oneOf": ["AIA 131 Å Eruption", "AIA 171 Å Eruption"]}}],
    "mark": {"type": "line", "strokeWidth": 1.8},
    "encoding": {
     "x": {"field": "t", "type": "quantitative", "scale": {"domain": [0, 120], "nice": false},
           "axis": {"values": [0,1,2,3,4,5,6,7,8,9,10,11,12,13,14,15,16,17,18,19,20,21,22,23,24,25,26,27,28,29,30,31,32,33,34,35,36,37,38,39,40,41,42,43,44,45,46,47,48,49,50,51,52,53,54,55,56,57,58,59,60,61,62,63,64,65,66,67,68,69,70,71,72,73,74,75,76,77,78,79,80,81,82,83,84,85,86,87,88,89,90,91,92,93,94,95,96,97,98,99,100,101,102,103,104,105,106,107,108,109,110,111,112,113,114,115,116,117,118,119,120], "tickCount": 500, "labels": false, "title": null, "tickSize": {"condition": {"test": "datum.value % 10 === 0", "value": 4.5}, "value": 2.5}}},
     "y": {"field": "v", "type": "quantitative", "scale": {"domain": [-1.5e24, 3e24], "nice": false, "zero": false},
           "axis": {"values": [-1e24, 0, 1e24, 2e24, 3e24], "tickCount": 500, "labelExpr": "format(datum.value/1e24, 'd')", "title": ["Excess Radiated", "Power (erg s⁻¹)"], "tickSize": 4.5}},
     "color": {"field": "s", "type": "nominal",
      "scale": {"domain": ["AIA 131 Å Eruption", "AIA 171 Å Eruption", "AIA 131 Å Ribbon", "AIA 171 Å Ribbon"], "range": ["#0000ff", "#ffa500", "#008000", "#ff0000"]},
      "legend": {"title": null, "columns": 2, "orient": "top-left"}}
    }},
   {"data": {"name": "aiac"}, "transform": [{"filter": {"field": "s", "equal": "AIA 131 Å Ribbon"}}],
    "mark": {"type": "line", "strokeWidth": 1.8},
    "encoding": {"x": {"field": "t", "type": "quantitative"}, "y": {"field": "v", "type": "quantitative"}, "color": {"field": "s", "type": "nominal"}}},
   {"data": {"name": "aiac"}, "transform": [{"filter": {"field": "s", "equal": "AIA 171 Å Ribbon"}}],
    "mark": {"type": "line", "strokeWidth": 1.8},
    "encoding": {"x": {"field": "t", "type": "quantitative"}, "y": {"field": "v", "type": "quantitative"}, "color": {"field": "s", "type": "nominal"}}},
   {"data": {"name": "dash"}, "mark": {"type": "rule", "strokeDash": [4, 2.5], "color": "black", "strokeWidth": 1.1},
    "encoding": {"x": {"field": "t", "type": "quantitative"}}},
   {"data": {"values": [{"lab": "c.)"}]}, "mark": {"type": "text", "align": "right", "baseline": "middle", "fontSize": 11.7, "color": "black"},
    "encoding": {"x": {"datum": 118.8, "type": "quantitative"}, "y": {"datum": 2.55e24, "type": "quantitative"}, "text": {"field": "lab"}}}
  ]
 },
 {
  "width": 488, "height": 183,
  "title": {"text": "1e25", "anchor": "start", "frame": "group", "offset": -11},
  "resolve": {"scale": {"y": "independent"}, "axis": {"x": "independent"}},
  "layer": [
   {"layer": [
    {"data": {"name": "aiad"}, "mark": {"type": "line", "strokeWidth": 1.8},
     "encoding": {
      "x": {"field": "t", "type": "quantitative", "scale": {"domain": [0, 120], "nice": false},
            "axis": {"values": [0,1,2,3,4,5,6,7,8,9,10,11,12,13,14,15,16,17,18,19,20,21,22,23,24,25,26,27,28,29,30,31,32,33,34,35,36,37,38,39,40,41,42,43,44,45,46,47,48,49,50,51,52,53,54,55,56,57,58,59,60,61,62,63,64,65,66,67,68,69,70,71,72,73,74,75,76,77,78,79,80,81,82,83,84,85,86,87,88,89,90,91,92,93,94,95,96,97,98,99,100,101,102,103,104,105,106,107,108,109,110,111,112,113,114,115,116,117,118,119,120], "tickCount": 500,
                     "tickSize": {"condition": {"test": "datum.value % 10 === 0", "value": 4.5}, "value": 2.5},
                     "labelExpr": "datum.value % 10 === 0 ? pad(toString((22 + floor(datum.value / 60)) % 24), 2, '0', 'left') + ':' + pad(toString(datum.value % 60), 2, '0', 'left') + ':00' : ''",
                     "labelAngle": -30, "labelAlign": "right", "labelBaseline": "top", "labelBound": false, "labelPadding": 2,
                     "title": "Time (UTC)", "titlePadding": 4}},
      "y": {"field": "v", "type": "quantitative", "scale": {"domain": [-0.3e25, 2.5e25], "nice": false, "zero": false},
            "axis": {"values": [0, 0.5e25, 1e25, 1.5e25, 2e25, 2.5e25], "tickCount": 500, "labelExpr": "format(datum.value/1e25, '.1f')", "title": ["AIA Excess Radiated", "Power (erg s⁻¹)"], "tickSize": 4.5}},
      "color": {"field": "s", "type": "nominal",
       "scale": {"domain": ["AIA 304 Å Eruption", "AIA 1600 Å Eruption", "EUVI 304 Å Eruption", "AIA 304 Å Ribbon", "AIA 1600 Å Ribbon", "EUVI 304 Å Ribbon"], "range": ["#0000ff", "#ffa500", "#800080", "#008000", "#ff0000", "#000000"]},
       "legend": {"title": null, "columns": 2, "orient": "top-left"}}
     }},
    {"data": {"name": "dash"}, "mark": {"type": "rule", "strokeDash": [4, 2.5], "color": "black", "strokeWidth": 1.1},
     "encoding": {"x": {"field": "t", "type": "quantitative"}}},
    {"data": {"values": [{"lab": "d.)"}]}, "mark": {"type": "text", "align": "right", "baseline": "middle", "fontSize": 11.7, "color": "black"},
     "encoding": {"x": {"datum": 118.8, "type": "quantitative"}, "y": {"datum": 2.21e25, "type": "quantitative"}, "text": {"field": "lab"}}}
   ]},
   {"data": {"name": "euvi"}, "mark": {"type": "line", "interpolate": "step-after", "strokeWidth": 1.8},
    "encoding": {
     "x": {"field": "t", "type": "quantitative", "axis": {"orient": "top", "labels": false, "ticks": false, "domain": false, "title": "1e6", "titleAnchor": "end", "titleAngle": 0, "titlePadding": 2}},
     "y": {"field": "v", "type": "quantitative", "scale": {"domain": [-0.15e6, 1.25e6], "nice": false, "zero": false},
           "axis": {"orient": "right", "values": [0, 0.2e6, 0.4e6, 0.6e6, 0.8e6, 1e6, 1.2e6], "tickCount": 500, "labelExpr": "format(datum.value/1e6, '.1f')", "title": ["EUVI Excess", "Counts s⁻¹"], "titleAngle": 270, "titlePadding": 3, "tickSize": 4.5}},
     "color": {"field": "s", "type": "nominal"}
    }}
  ]
 }
]
}
